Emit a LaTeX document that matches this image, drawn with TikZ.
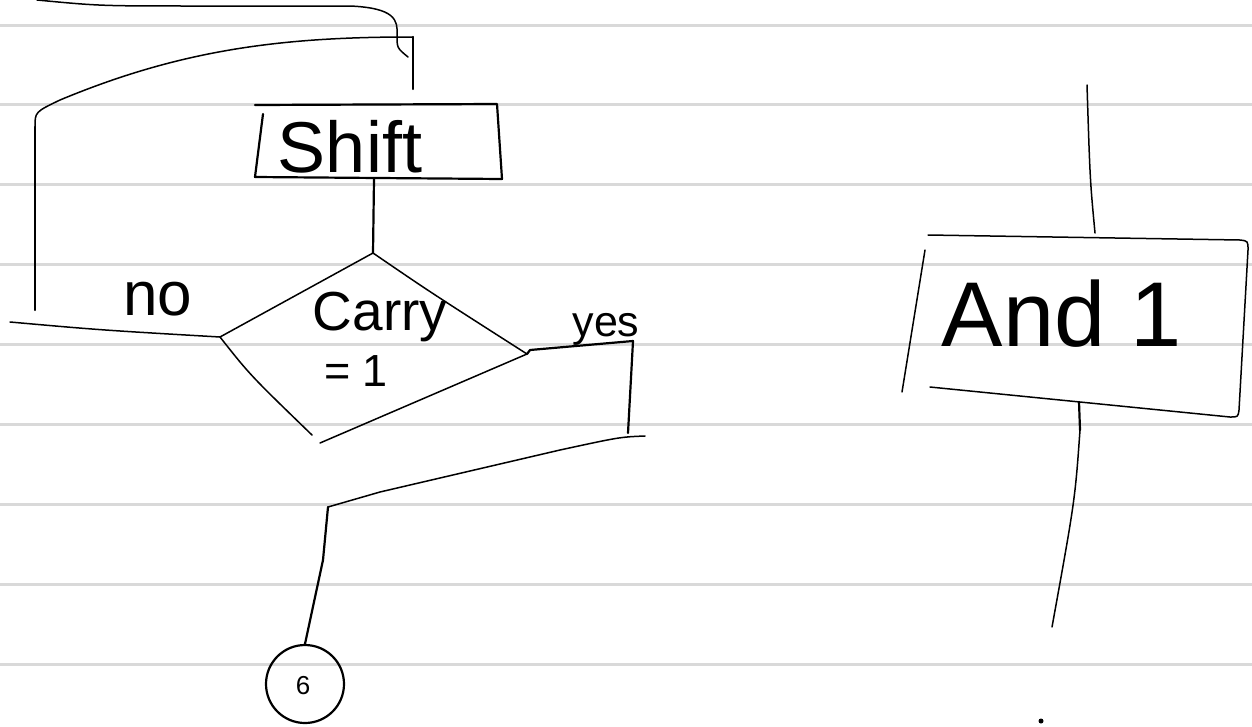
\documentclass[tikz,border=0pt]{standalone}
\usepackage{fontspec}
\setmainfont{Liberation Sans}
\begin{document}
\begin{tikzpicture}[x=1pt,y=-1pt,
  ink/.style={line width=2.2pt, line cap=round, line join=round},
  fine/.style={line width=1.5pt, line cap=round, line join=round},
  rule/.style={draw=black!15, line width=3pt},
  word/.style={inner sep=0pt, anchor=base},
  connector/.style={circle, draw, line width=2.2pt, minimum size=78pt, inner sep=0pt}]
\useasboundingbox (0,0) rectangle (1252,726);
\fill[white] (0,0) rectangle (1252,726);
% ruled paper
\foreach \k in {0,...,8} \draw[rule] (0,{25+79.9*\k}) -- (1252,{25+79.9*\k});

% ---- Shift box ----
\coordinate (s-tl) at (255,105);
\coordinate (s-tr) at (497,104);
\coordinate (s-br) at (502,179);
\coordinate (s-bl) at (255,177);
\coordinate (s-lt) at (263,114);
\coordinate (s-out) at (374,179);
\draw[ink] (s-lt) -- (s-bl) -- (s-br) -- (s-tr) -- (s-tl);
\node[word, font=\fontsize{72}{80}\selectfont] (shift) at (350,172) {Shift};

% ---- Carry decision ----
\coordinate (d-top) at (373,253);
\coordinate (d-left) at (220,337);
\coordinate (d-bot) at (312,435);
\coordinate (d-right) at (527,354);
\coordinate (d-bot2) at (320,443);
\draw[ink] (s-out) -- (d-top);
\draw[fine] (d-top) -- (d-left) .. controls (250,375) .. (d-bot);
\draw[fine] (d-top) .. controls (430,292) .. (d-right) -- (d-bot2);
\node[word, font=\fontsize{55}{60}\selectfont] (carry) at (380,330) {Carry};
\node[word, font=\fontsize{45}{50}\selectfont] (eq) at (356,386) {= 1};

% ---- "no" branch looping back above Shift ----
\coordinate (no-end) at (10,322);
\coordinate (loop-bot) at (35,310);
\coordinate (loop-up) at (35,127);
\coordinate (loop-corner) at (413,37);
\coordinate (loop-in) at (413,89);
\draw[fine] (no-end) .. controls (100,330) .. (d-left);
\draw[ink] (loop-bot) -- (loop-up);
\draw[fine] (loop-up) .. controls (35,112) .. (60,100)
  .. controls (180,50) and (280,37) .. (410,37) -- (loop-corner);
\draw[ink] (loop-corner) -- (loop-in);
\node[word, font=\fontsize{62}{66}\selectfont] (no) at (158,315) {no};

% ---- incoming line from above ----
\coordinate (top-start) at (37,0);
\coordinate (top-end) at (408,57);
\draw[fine] (top-start) .. controls (100,6) .. (200,6) -- (350,6)
  .. controls (395,8) and (398,20) .. (397,35) .. controls (397,48) .. (top-end);

% ---- "yes" branch down to connector ----
\coordinate (y-a) at (633,341);
\coordinate (y-b) at (628,433);
\coordinate (y-c) at (645,436);
\coordinate (y-d) at (328,507);
\draw[ink] (d-right) -- (530,350) -- (y-a) -- (y-b);
\node[word, font=\fontsize{43}{48}\selectfont] (yes) at (606,336) {yes};
\node[connector] (conn) at (305,684) {};
\node[word, font=\fontsize{26}{30}\selectfont] (six) at (303,694) {6};
\draw[fine] (y-c) .. controls (620,437) .. (560,450) -- (380,492) -- (y-d);
\draw[ink] (y-d) -- (323,560) -- (conn.north);

% ---- And 1 box ----
\coordinate (a-in) at (1087,85);
\coordinate (a-top) at (1095,233);
\coordinate (a-tl) at (928,235);
\coordinate (a-bl) at (930,387);
\coordinate (a-lt) at (925,250);
\coordinate (a-lb) at (902,392);
\coordinate (a-out) at (1079,402);
\coordinate (a-end) at (1052,627);
\draw[fine] (a-in) .. controls (1090,180) .. (a-top);
\draw[fine] (a-bl) -- (1230,417) .. controls (1238,417) .. (1239,410)
  -- (1248,250) .. controls (1248,241) .. (1240,240) -- (a-tl);
\draw[fine] (a-lt) -- (a-lb);
\draw[ink] (a-out) -- (1080,430);
\draw[fine] (1080,430) .. controls (1075,500) .. (a-end);
\node[word, font=\fontsize{92}{100}\selectfont] (and) at (1062,346) {And 1};
\fill (1041,721) circle (2.5);
\end{tikzpicture}
\end{document}
